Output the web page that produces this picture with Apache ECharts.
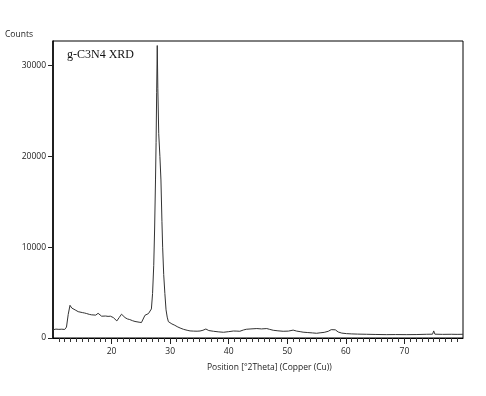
<!DOCTYPE html>
<html>
<head>
<meta charset="utf-8">
<script src="https://cdn.jsdelivr.net/npm/echarts@6/dist/echarts.min.js"></script>
<style>
html,body{margin:0;padding:0;background:#fff;}
#chart{width:486px;height:396px;}
</style>
</head>
<body>
<div id="chart"></div>
<script>
const theta = [10.0,10.5,11.0,11.5,12.0,12.3,12.6,12.9,13.2,13.5,13.9,14.3,14.6,15.0,15.4,15.75,16.2,16.6,16.9,17.3,17.7,18.0,18.3,18.6,19.0,19.4,19.8,20.3,20.6,20.9,21.3,21.7,22.0,22.3,22.7,23.1,23.6,24.0,24.3,24.7,25.1,25.4,25.7,26.0,26.3,26.6,26.8,27.0,27.2,27.35,27.5,27.6,27.7,27.8,27.9,28.05,28.25,28.43,28.6,28.72,28.9,29.1,29.3,29.5,29.7,30.0,30.3,30.8,31.2,31.7,32.3,32.9,33.4,34.0,34.6,35.1,35.6,36.1,36.6,37.4,38.2,39.1,40.0,40.8,41.4,41.9,42.5,43.0,43.8,44.8,45.6,46.5,47.0,47.6,48.4,49.3,50.2,51.0,51.6,52.2,52.7,53.5,54.3,55.0,55.6,56.3,57.0,57.5,57.8,58.2,58.7,59.3,60.1,61.0,62.0,63.5,65.0,66.9,68.5,70.4,72.0,73.8,74.8,75.0,75.2,76.5,78.0,79.0,80.0];
const counts = [900,980,950,970,940,1200,2600,3600,3300,3100,3050,2900,2880,2800,2750,2690,2600,2550,2480,2520,2720,2500,2400,2330,2420,2380,2400,2250,2100,1880,2250,2620,2450,2250,2100,2030,1900,1820,1770,1740,1700,1900,2500,2600,2690,2900,3200,4900,8000,12000,17400,21500,27000,32200,27500,22500,20000,17400,12800,10000,7000,4900,3100,2300,1800,1600,1550,1400,1250,1100,950,850,780,760,750,770,850,990,820,740,680,630,700,770,760,740,880,960,1000,1040,1000,1040,950,850,790,740,760,870,760,700,640,600,560,520,570,620,740,920,1040,900,660,540,480,450,430,410,390,370,380,370,380,410,420,780,420,400,410,400,410];
const xTickLabels = [20,30,40,50,60,70];
const yTickLabels = [0,10000,20000,30000];
const chartTitle = 'g-C3N4 XRD';
const xName = 'Position [°2Theta] (Copper (Cu))';
const yName = 'Counts';

const chart = echarts.init(document.getElementById('chart'), null, {renderer:'canvas'});
const labelFont = {fontFamily:'Open Sans', fontSize:8.5, color:'#222'};
chart.setOption({
  animation:false,
  backgroundColor:'#fff',
  grid:{left:53,right:23,top:41,bottom:58,show:true,borderColor:'#000',borderWidth:1,backgroundColor:'transparent'},
  title:{text:chartTitle,left:62,top:44,textStyle:{fontFamily:'Liberation Serif',fontSize:12,fontWeight:'normal',color:'#111'}},
  graphic:[
    {type:'text',left:5,top:30,style:{text:yName,font:'8.5px "Open Sans"',fill:'#222'}},
    {type:'text',left:207,top:363,style:{text:xName,font:'8.5px "Open Sans"',fill:'#222'}}
  ],
  xAxis:{
    type:'value',min:10,max:80,interval:10,
    axisLine:{show:true,lineStyle:{color:'#000',width:1}},
    axisTick:{show:true,length:6,lineStyle:{color:'#222'},customValues:xTickLabels},
    minorTick:{show:true,splitNumber:10,length:4,lineStyle:{color:'#333'}},
    axisLabel:{...labelFont,margin:9,customValues:xTickLabels,formatter:v=>String(v)},
    splitLine:{show:false},minorSplitLine:{show:false}
  },
  yAxis:{
    type:'value',min:0,max:32700,interval:10000,
    axisLine:{show:true,lineStyle:{color:'#000',width:1.5}},
    axisTick:{show:true,length:5,lineStyle:{color:'#222'},customValues:yTickLabels},
    axisLabel:{...labelFont,margin:7,customValues:yTickLabels,formatter:v=>String(v)},
    splitLine:{show:false}
  },
  series:[{
    type:'line',
    data:theta.map((t,i)=>[t,counts[i]]),
    showSymbol:false,
    lineStyle:{color:'#333',width:1},
    silent:true
  }]
});
</script>
</body>
</html>
